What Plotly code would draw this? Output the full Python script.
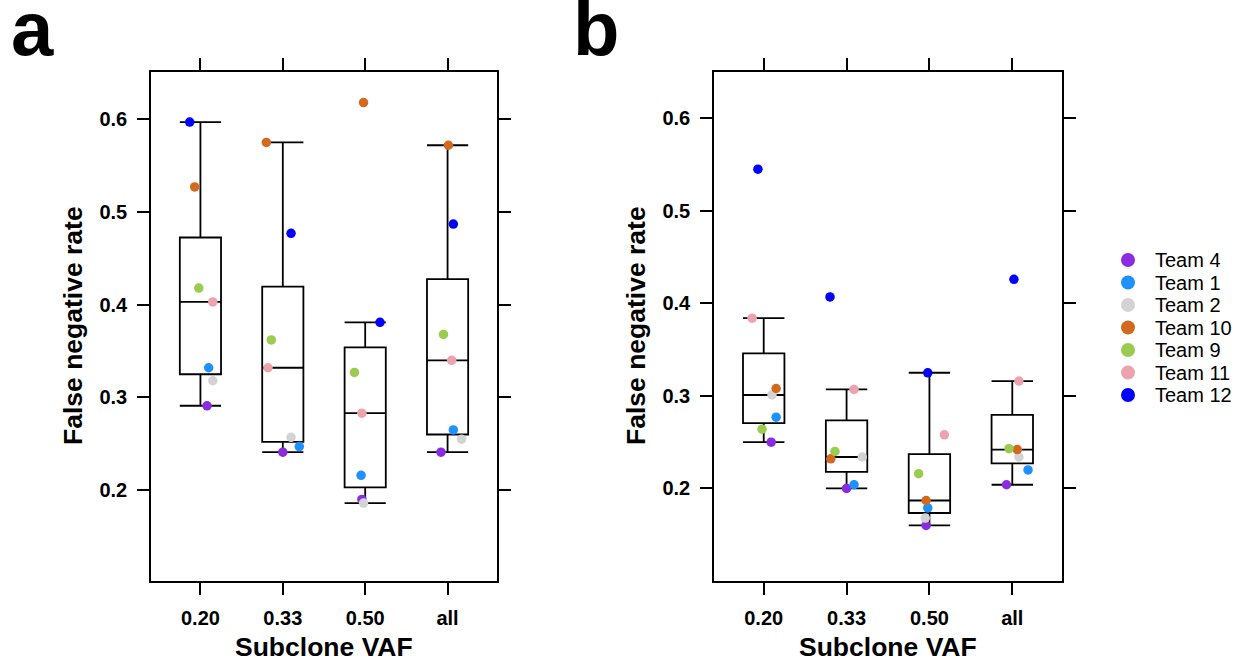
import plotly.graph_objects as go

# ---------------- data ----------------
groups = ["0.20", "0.33", "0.50", "all"]
teams = ["Team 4", "Team 1", "Team 2", "Team 10", "Team 9", "Team 11", "Team 12"]
team_colors = ["#8A2BE2", "#1E90FF", "#D3D3D3", "#D2691E", "#9BCB4F", "#EDA3AD", "#0000FF"]

# False negative rate per group (rows) for each team (columns, order of `teams`)
fnr_a = [
    [0.291, 0.332, 0.318, 0.527, 0.418, 0.403, 0.597],  # 0.20
    [0.241, 0.247, 0.257, 0.575, 0.362, 0.332, 0.477],  # 0.33
    [0.190, 0.216, 0.186, 0.618, 0.327, 0.283, 0.381],  # 0.50
    [0.241, 0.265, 0.255, 0.572, 0.368, 0.340, 0.487],  # all
]
fnr_b = [
    [0.250, 0.277, 0.301, 0.308, 0.264, 0.384, 0.545],
    [0.200, 0.204, 0.234, 0.232, 0.240, 0.307, 0.407],
    [0.160, 0.179, 0.168, 0.187, 0.216, 0.258, 0.325],
    [0.204, 0.220, 0.234, 0.242, 0.243, 0.316, 0.426],
]
# horizontal jitter of each point (category units)
jitter_a = [
    [0.08, 0.10, 0.15, -0.07, -0.02, 0.15, -0.13],
    [0.00, 0.20, 0.10, -0.20, -0.14, -0.18, 0.10],
    [-0.04, -0.05, -0.02, -0.02, -0.13, -0.04, 0.18],
    [-0.08, 0.07, 0.17, 0.01, -0.05, 0.05, 0.07],
]
jitter_b = [
    [0.09, 0.15, 0.10, 0.15, -0.02, -0.14, -0.07],
    [0.00, 0.09, 0.19, -0.19, -0.14, 0.09, -0.20],
    [-0.04, -0.02, -0.05, -0.04, -0.13, 0.18, -0.02],
    [-0.07, 0.19, 0.08, 0.06, -0.04, 0.08, 0.02],
]
y_ticks = [0.2, 0.3, 0.4, 0.5, 0.6]

# ---------------- figure ----------------
W, H = 1247, 663
FONT = "Liberation Sans, Arial, Helvetica, sans-serif"
fig = go.Figure()


def add_panel(fnr, jit, xa, ya):
    positions = list(range(1, len(groups) + 1))
    bx, by = [], []
    for gi, vals in enumerate(fnr):
        bx += [positions[gi]] * len(vals)
        by += vals
    fig.add_trace(go.Box(
        x=bx, y=by, xaxis=xa, yaxis=ya,
        width=0.5, whiskerwidth=1, quartilemethod="inclusive",
        boxpoints="outliers", fillcolor="rgba(0,0,0,0)",
        line=dict(color="black", width=1.8),
        marker=dict(opacity=0, size=1),
        showlegend=False, hoverinfo="skip",
    ))
    for ti, team in enumerate(teams):
        fig.add_trace(go.Scatter(
            x=[positions[gi] + jit[gi][ti] for gi in range(len(groups))],
            y=[fnr[gi][ti] for gi in range(len(groups))],
            xaxis=xa, yaxis=ya, mode="markers",
            marker=dict(color=team_colors[ti], size=9.5, line=dict(width=0)),
            showlegend=False, name=team, cliponaxis=False,
        ))


add_panel(fnr_a, jitter_a, "x", "y")
add_panel(fnr_b, jitter_b, "x2", "y2")

# legend drawn manually (markers on a hidden full-page axis)
leg_x = 1128 / W
leg_y = [1 - (260 + 22.5 * i) / H for i in range(len(teams))]
fig.add_trace(go.Scatter(
    x=[leg_x] * len(teams), y=leg_y, xaxis="x3", yaxis="y3", mode="markers",
    marker=dict(color=team_colors, size=14, line=dict(width=0)),
    showlegend=False, cliponaxis=False, hoverinfo="skip",
))

axis_common = dict(
    showline=True, linecolor="black", linewidth=1.5, mirror="allticks",
    ticks="outside", ticklen=12, tickwidth=1.5, tickcolor="black",
    showgrid=False, zeroline=False,
    tickfont=dict(family=FONT, size=20, color="black", weight="bold"),
    ticklabelstandoff=6,
)
xkw = dict(axis_common, range=[0.4, 4.6], tickvals=[1, 2, 3, 4], ticktext=groups)
ykw = dict(axis_common, tickvals=y_ticks, tickformat=".1f")

fig.update_layout(
    width=W, height=H,
    margin=dict(l=0, r=0, t=0, b=0),
    paper_bgcolor="white", plot_bgcolor="rgba(0,0,0,0)",
    showlegend=False,
    xaxis=dict(xkw, domain=[151 / W, 497 / W], anchor="y"),
    yaxis=dict(ykw, domain=[1 - 581 / H, 1 - 72 / H], range=[0.102, 0.651], anchor="x"),
    xaxis2=dict(xkw, domain=[714 / W, 1062 / W], anchor="y2"),
    yaxis2=dict(ykw, domain=[1 - 581 / H, 1 - 72 / H], range=[0.100, 0.650], anchor="x2"),
    xaxis3=dict(domain=[0, 1], range=[0, 1], visible=False, anchor="y3", fixedrange=True),
    yaxis3=dict(domain=[0, 1], range=[0, 1], visible=False, anchor="x3", fixedrange=True),
)

ann = []
title_font = dict(family=FONT, size=26.5, color="black", weight="bold")
for cx, yx in [(324, 73), (888, 636)]:
    ann.append(dict(text="Subclone VAF", x=cx / W, y=1 - 647 / H, xref="paper", yref="paper",
                    xanchor="center", yanchor="middle", showarrow=False, font=title_font))
    ann.append(dict(text="False negative rate", x=yx / W, y=1 - 326 / H, xref="paper", yref="paper",
                    xanchor="center", yanchor="middle", textangle=-90, showarrow=False,
                    font=title_font))
letter_font = dict(family=FONT, size=76, color="black", weight="bold")
ann.append(dict(text="a", x=9 / W, y=1 - 29 / H, xref="paper", yref="paper",
                xanchor="left", yanchor="middle", showarrow=False, font=letter_font))
ann.append(dict(text="b", x=571 / W, y=1 - 29 / H, xref="paper", yref="paper",
                xanchor="left", yanchor="middle", showarrow=False, font=letter_font))
for i, team in enumerate(teams):
    ann.append(dict(text=team, x=1153 / W, y=leg_y[i], xref="paper", yref="paper",
                    xanchor="left", yanchor="middle", showarrow=False,
                    font=dict(family=FONT, size=20, color="black")))
fig.update_layout(annotations=ann)

fig.write_html("out.html")
